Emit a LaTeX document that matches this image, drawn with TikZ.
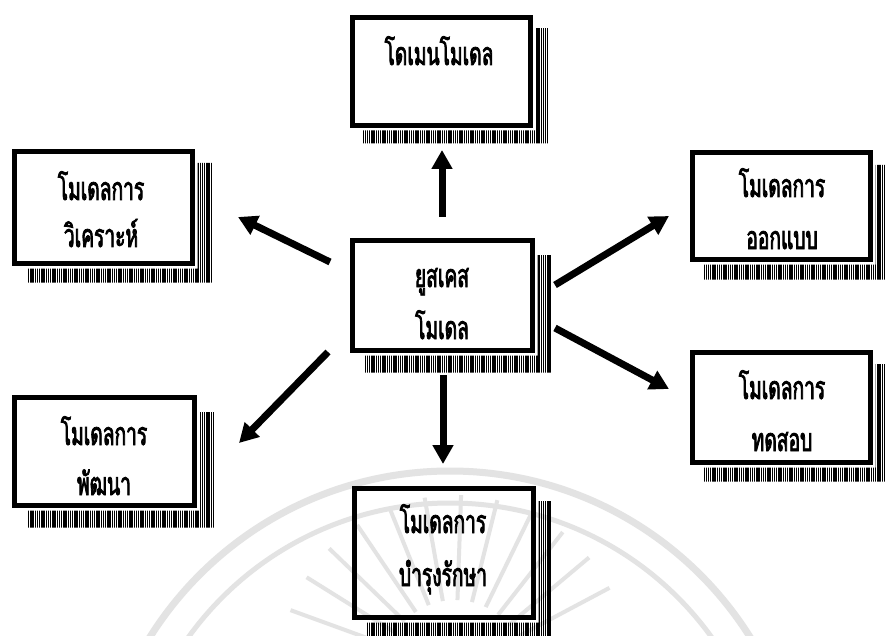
\documentclass[tikz,border=0pt]{standalone}
\usepackage{fontspec}
\newfontfamily\thaifont[Script=Thai,FakeStretch=0.6,FakeBold=2.4]{Loma}
\usetikzlibrary{arrows.meta,calc,patterns.meta}

\tikzset{
  modelbox/.style={draw=black, line width=5pt, rectangle, inner sep=0pt},
  boxtext/.style={font=\thaifont\fontsize{32}{36}\selectfont, anchor=base, inner sep=0pt},
  flow/.style={line width=7pt, -{Triangle[length=19pt,width=20pt]}},
  hatch/.style={pattern={Lines[angle=90,distance=2.2pt,line width=1.4pt]}, pattern color=black},
  seal/.style={draw=black!11, line width=7pt},
}

% L-shaped hatched drop shadow on the right and bottom of a box
\newcommand\hatchshadow[3]{%
  \fill[hatch]
    ($(#1.north east)+(2.5,#3)$) -- ($(#1.north east)+(2.5+#2,#3)$)
    -- ($(#1.south east)+(2.5+#2,2.5+#3)$) -- ($(#1.south west)+(#2,2.5+#3)$)
    -- ($(#1.south west)+(#2,2.5)$) -- ($(#1.south east)+(2.5,2.5)$) -- cycle;}

\begin{document}
\begin{tikzpicture}[x=1pt,y=-1pt]
\useasboundingbox (0,0) rectangle (885,636);
\fill[white] (0,0) rectangle (885,636);

% faint seal in the background
\begin{scope}
  \clip (0,0) rectangle (885,636);
  \draw[seal] (450,825) circle[radius=354];
  \draw[seal, line width=5pt] (450,825) circle[radius=322];
  \foreach \a in {200,212,...,340}
    \draw[seal, line width=4pt] ($(455,670)+(\a:70)$) -- ($(455,670)+(\a:175)$);
\end{scope}

% boxes
\node[modelbox, minimum width=178pt, minimum height=108pt] (dom) at (441.5,71.5) {};
\node[modelbox, minimum width=180pt, minimum height=110pt] (ctr) at (442.5,295.5) {};
\node[modelbox, minimum width=178pt, minimum height=112pt] (ana) at (103.5,207.5) {};
\node[modelbox, minimum width=180pt, minimum height=108pt] (dev) at (104.5,451.5) {};
\node[modelbox, minimum width=178pt, minimum height=107pt] (des) at (781.5,206) {};
\node[modelbox, minimum width=178pt, minimum height=110pt] (tst) at (781.5,407.5) {};
\node[modelbox, minimum width=179pt, minimum height=129pt] (mnt) at (444,553) {};

\hatchshadow{dom}{13}{13}
\hatchshadow{ctr}{15}{17}
\hatchshadow{ana}{15}{14}
\hatchshadow{dev}{15}{17}
\hatchshadow{des}{14}{15}
\hatchshadow{tst}{14}{14}
\hatchshadow{mnt}{14}{15}

% labels
\node[boxtext] (domt)  at (439,65)  {โดเมนโมเดล};
\node[boxtext] (ctrt1) at (442,287) {ยูสเคส};
\node[boxtext] (ctrt2) at (442,339) {โมเดล};
\node[boxtext] (anat1) at (101,200) {โมเดลการ};
\node[boxtext] (anat2) at (101,247) {วิเคราะห์};
\node[boxtext] (devt1) at (104,445) {โมเดลการ};
\node[boxtext] (devt2) at (104,495) {พัฒนา};
\node[boxtext] (dest1) at (782,197) {โมเดลการ};
\node[boxtext] (dest2) at (782,249) {ออกแบบ};
\node[boxtext] (tstt1) at (782,399) {โมเดลการ};
\node[boxtext] (tstt2) at (782,451) {ทดสอบ};
\node[boxtext] (mntt1) at (443,533) {โมเดลการ};
\node[boxtext] (mntt2) at (443,586) {บำรุงรักษา};

% arrow ends
\coordinate (upS) at (442,217); \coordinate (upE) at (442,150);
\coordinate (luS) at (330,262); \coordinate (luE) at (238,217);
\coordinate (ldS) at (328,352); \coordinate (ldE) at (239,443);
\coordinate (dnS) at (443,375); \coordinate (dnE) at (443,464);
\coordinate (ruS) at (555,285); \coordinate (ruE) at (669,216);
\coordinate (rdS) at (555,328); \coordinate (rdE) at (669,389);

\draw[flow] (upS) -- (upE);
\draw[flow] (luS) -- (luE);
\draw[flow] (ldS) -- (ldE);
\draw[flow] (dnS) -- (dnE);
\draw[flow] (ruS) -- (ruE);
\draw[flow] (rdS) -- (rdE);
\end{tikzpicture}
\end{document}
